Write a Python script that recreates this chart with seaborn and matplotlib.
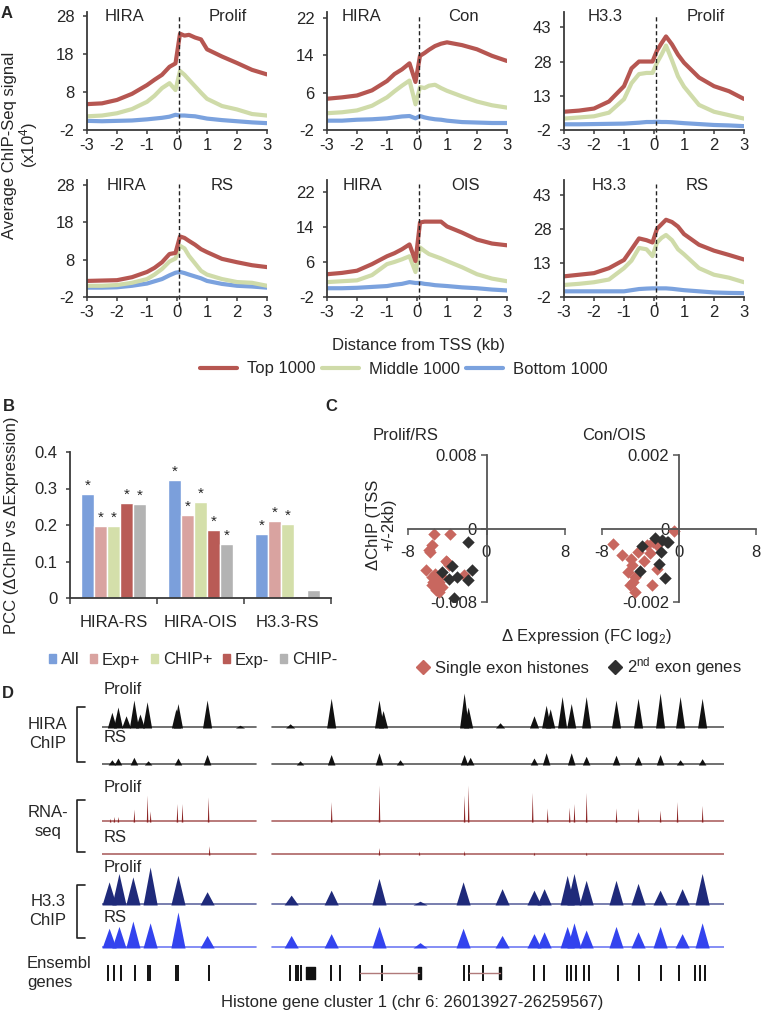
import numpy as np
import pandas as pd
import matplotlib
matplotlib.use('Agg')
import matplotlib.pyplot as plt
import seaborn as sns
from matplotlib.lines import Line2D
from matplotlib.patches import Patch

# ---------------- panel A: average ChIP-seq profiles around the TSS ----------------
dist_kb = [-3, -2.5, -2, -1.5, -1, -0.75, -0.5, -0.25, -0.05, 0.1, 0.25, 0.4, 0.6, 0.8, 1, 1.5, 2, 2.5, 3]

hira_prolif_top = [4.8, 5.0, 5.9, 7.5, 9.8, 11.2, 12.5, 14.6, 15.5, 23.3, 22.8, 23.0, 22.3, 21.8, 19.2, 17.3, 15.6, 13.8, 12.6]
hira_prolif_mid = [1.6, 1.8, 2.4, 3.5, 5.4, 7.0, 9.0, 10.3, 8.5, 13.5, 12.5, 11.2, 9.5, 7.8, 6.2, 4.3, 3.4, 2.2, 1.8]
hira_prolif_bot = [0.4, 0.3, 0.4, 0.5, 0.8, 1.0, 1.2, 1.5, 2.0, 1.8, 1.8, 1.7, 1.6, 1.3, 1.0, 0.6, 0.3, 0.0, -0.2]

hira_con_top = [4.7, 5.0, 5.4, 6.5, 8.5, 10.0, 11.0, 12.3, 8.3, 13.9, 14.5, 15.2, 16.0, 16.5, 16.8, 16.2, 15.3, 13.9, 12.8]
hira_con_mid = [1.6, 1.8, 2.2, 3.2, 5.0, 6.3, 7.5, 8.6, 3.5, 7.2, 7.0, 7.5, 7.7, 7.0, 6.4, 5.2, 4.1, 3.3, 2.8]
hira_con_bot = [0.0, 0.0, 0.2, 0.3, 0.5, 0.7, 0.9, 1.0, 0.5, 1.0, 0.7, 0.5, 0.3, 0.2, 0.0, -0.3, -0.4, -0.5, -0.5]

h33_prolif_top = [6.0, 6.5, 7.4, 10.5, 17.2, 25.0, 28.0, 28.0, 28.0, 32.8, 36.0, 39.0, 35.5, 31.0, 27.5, 21.0, 17.2, 15.0, 11.6]
h33_prolif_mid = [3.0, 3.5, 4.0, 5.6, 11.5, 18.5, 22.5, 23.0, 23.0, 27.5, 31.0, 35.0, 28.5, 21.5, 17.0, 9.0, 6.0, 4.5, 3.0]
h33_prolif_bot = [0.5, 0.5, 0.6, 0.7, 0.8, 1.0, 1.2, 1.5, 1.5, 1.6, 1.5, 1.5, 1.4, 1.2, 1.0, 0.6, 0.2, 0.0, -0.3]

hira_rs_top = [2.3, 2.4, 2.5, 3.3, 4.7, 5.8, 7.3, 9.5, 9.8, 14.2, 13.8, 13.0, 12.0, 10.8, 10.0, 8.2, 7.3, 6.5, 6.0]
hira_rs_mid = [1.0, 1.0, 1.2, 1.8, 2.8, 4.0, 5.5, 7.5, 8.3, 11.7, 11.0, 9.0, 7.0, 5.0, 4.0, 2.8, 2.0, 1.8, 1.0]
hira_rs_bot = [0.5, 0.5, 0.6, 1.0, 1.6, 2.2, 2.8, 3.8, 4.5, 4.7, 4.4, 4.0, 3.5, 3.0, 2.3, 1.5, 1.0, 0.8, 0.5]

hira_ois_top = [3.2, 3.5, 4.0, 5.5, 7.3, 8.0, 8.9, 10.0, 6.2, 15.0, 15.2, 15.2, 15.2, 15.2, 14.1, 12.7, 11.1, 10.2, 9.8]
hira_ois_mid = [1.4, 1.6, 1.8, 3.0, 5.5, 6.0, 6.6, 7.3, 3.7, 9.3, 8.5, 7.8, 7.3, 6.8, 6.2, 4.8, 3.2, 2.2, 1.6]
hira_ois_bot = [0.0, 0.0, 0.1, 0.3, 0.5, 0.8, 1.0, 1.4, 1.2, 1.2, 1.0, 0.9, 0.7, 0.6, 0.5, 0.2, 0.0, -0.3, -0.5]

h33_rs_top = [7.1, 7.8, 8.5, 10.7, 14.3, 19.0, 23.8, 23.0, 22.0, 28.0, 30.0, 32.0, 31.0, 29.0, 25.7, 21.0, 18.4, 16.5, 14.5]
h33_rs_mid = [3.3, 3.8, 4.5, 5.7, 10.7, 14.0, 19.6, 19.0, 16.0, 22.0, 24.0, 25.3, 23.0, 19.0, 16.8, 10.7, 7.8, 6.5, 4.5]
h33_rs_bot = [0.5, 0.5, 0.5, 0.5, 0.5, 1.0, 1.5, 1.7, 1.8, 1.8, 1.8, 1.8, 1.6, 1.3, 1.0, 0.5, 0.0, -0.2, -0.3]

profile_labels = ['Top 1000', 'Middle 1000', 'Bottom 1000']

# ---------------- panel B: PCC bars ----------------
comparisons = ['HIRA-RS', 'HIRA-OIS', 'H3.3-RS']
metrics = ['All', 'Exp+', 'CHIP+', 'Exp-', 'CHIP-']
pcc_all = [0.285, 0.323, 0.175]
pcc_exp_up = [0.198, 0.228, 0.211]
pcc_chip_up = [0.198, 0.264, 0.202]
pcc_exp_down = [0.261, 0.187, 0.005]
pcc_chip_down = [0.257, 0.148, 0.022]
sig_all = [True, True, True]
sig_exp_up = [True, True, True]
sig_chip_up = [True, True, True]
sig_exp_down = [True, True, False]
sig_chip_down = [True, True, False]

# ---------------- panel C: delta ChIP vs delta expression ----------------
prolif_rs_single_x = [-5.34, -3.74, -5.51, -5.78, -4.15, -6.19, -3.81, -5.51, -5.24, -2.28, -5.41, -4.83,
                      -5.17, -4.49, -3.98, -5.9, -4.6, -5.0, -4.8, -5.6]
prolif_rs_single_y = [-0.00065, -0.00065, -0.0018, -0.0026, -0.0035, -0.0045, -0.004, -0.0053, -0.0049,
                      -0.0051, -0.0058, -0.0058, -0.0067, -0.0064, -0.0037, -0.0023, -0.0052, -0.0061,
                      -0.0069, -0.0062]
prolif_rs_second_x = [-1.84, -4.49, -3.54, -1.50, -3.81, -2.96, -1.84, -3.3]
prolif_rs_second_y = [-0.0015, -0.0047, -0.0041, -0.0045, -0.0055, -0.0053, -0.0056, -0.0076]

con_ois_single_x = [-0.52, -6.82, -5.95, -4.98, -4.22, -3.36, -2.66, -2.32, -3.0, -3.6, -4.91, -5.25,
                    -4.57, -4.74, -5.09, -4.57, -2.84, -2.32]
con_ois_single_y = [-0.00007, -0.00041, -0.00071, -0.00082, -0.00064, -0.00045, -0.00038, -0.00045,
                    -0.00068, -0.00089, -0.001, -0.00118, -0.00132, -0.00145, -0.00155, -0.00173,
                    -0.00155, -0.00111]
con_ois_second_x = [-2.53, -1.73, -1.21, -3.81, -1.90, -2.08, -4.05, -1.45, -1.1]
con_ois_second_y = [-0.00025, -0.00032, -0.00038, -0.00048, -0.00064, -0.00097, -0.00116, -0.00136, -0.00036]

# ---------------- panel D: browser tracks (kb from cluster start) ----------------
cluster_len_kb = 245.64
covered_kb = [(0.0, 61.0), (67.0, 245.6)]

hira_prolif_kb = [3.9, 6.3, 9.5, 12.6, 15.0, 17.8, 29.2, 30.0, 41.5, 54.5, 74.3, 90.5, 109.4, 111.0,
                  143.0, 144.6, 157.2, 170.6, 175.4, 177.0, 181.7, 185.3, 191.2, 203.0, 211.7, 220.4,
                  228.3, 237.0]
hira_prolif_h = [0.45, 0.6, 0.35, 0.8, 0.4, 0.75, 0.55, 0.7, 0.8, 0.08, 0.12, 0.85, 0.8, 0.5,
                 1.0, 0.6, 0.15, 0.35, 0.65, 0.55, 0.9, 0.7, 0.9, 0.8, 0.85, 1.0, 0.9, 0.85]
hira_rs_kb = [3.9, 6.3, 12.6, 18.2, 30.0, 41.5, 78.2, 90.5, 109.4, 117.7, 143.0, 145.4, 170.6, 175.4,
              185.3, 191.2, 203.0, 211.7, 220.4, 228.3, 237.0]
hira_rs_h = [0.15, 0.2, 0.22, 0.12, 0.2, 0.3, 0.12, 0.3, 0.35, 0.15, 0.3, 0.22, 0.2, 0.35,
             0.35, 0.25, 0.28, 0.25, 0.3, 0.15, 0.18]

rna_prolif_kb = [3.2, 4.7, 6.3, 12.6, 17.8, 19.0, 29.6, 31.6, 41.9, 90.5, 109.4, 143.0, 144.6, 169.9,
                 175.8, 184.5, 186.4, 191.2, 203.0, 211.7, 220.4, 227.1, 237.0]
rna_prolif_h = [0.1, 0.15, 0.15, 0.35, 0.73, 0.3, 0.5, 0.5, 0.68, 0.55, 1.0, 0.73, 1.0, 0.8,
                0.38, 0.4, 0.5, 0.8, 0.38, 0.38, 0.32, 0.55, 0.45]
rna_rs_kb = [42.3, 109.4, 125.2, 143.0, 170.6, 191.2]
rna_rs_h = [0.25, 0.2, 0.1, 0.12, 0.08, 0.08]

h33_kb = [2.8, 6.7, 12.2, 19.0, 30.0, 41.5, 74.7, 90.5, 109.4, 125.6, 142.6, 158.0, 170.6, 174.6,
          183.7, 186.4, 191.2, 203.0, 211.7, 220.4, 229.1, 237.0]
h33_prolif_h = [0.61, 0.83, 0.74, 1.0, 0.78, 0.35, 0.26, 0.39, 0.70, 0.1, 0.61, 0.43, 0.39, 0.43,
                0.78, 0.83, 0.65, 0.65, 0.57, 0.39, 0.43, 0.83]
h33_rs_h = [0.55, 0.6, 0.75, 0.7, 1.0, 0.35, 0.35, 0.4, 0.6, 0.15, 0.55, 0.35, 0.4, 0.45,
            0.6, 0.7, 0.5, 0.6, 0.45, 0.6, 0.4, 0.7]

gene_kb = [2.4, 4.7, 7.5, 13.0, 18.2, 19.0, 29.2, 30.0, 42.3, 74.3, 76.6, 77.4, 78.6, 90.5, 94.0,
           101.9, 110.6, 143.0, 145.0, 150.5, 170.6, 174.6, 183.7, 185.3, 187.2, 190.4, 192.4, 203.8,
           212.1, 220.8, 227.9, 234.2, 236.2, 238.2]
gene_blocks = [(80.6, 3.5), (124.6, 1.2), (156.8, 0.8)]
gene_introns = [(101.9, 125.2), (145.0, 157.2)]

# ---------------- styling ----------------
sns.set_theme(style='ticks')
plt.rcParams['font.family'] = ['Liberation Sans', 'DejaVu Sans']
plt.rcParams['mathtext.fontset'] = 'custom'
plt.rcParams['mathtext.rm'] = 'Liberation Sans'
plt.rcParams['mathtext.it'] = 'Liberation Sans:italic'
plt.rcParams['font.size'] = 12
plt.rcParams['axes.unicode_minus'] = False

prof_colors = ['#b65651', '#cfdba9', '#7ba2de']
bar_colors = ['#7b9fdb', '#d9a3a0', '#d4dfaa', '#b95b56', '#b3b3b3']
single_color = '#c8675f'
second_color = '#303030'
axis_color = '#3a3a3a'

W, H = 763, 1014
fig = plt.figure(figsize=(W / 100, H / 100), dpi=100)


def px_axes(left, top, right, bottom):
    return fig.add_axes([left / W, 1 - bottom / H, (right - left) / W, (bottom - top) / H])


def fig_text(x, y, s, **kw):
    kw.setdefault('va', 'center')
    return fig.text(x / W, 1 - y / H, s, **kw)


def style_axis(ax, color=axis_color):
    sns.despine(ax=ax)
    for side in ['left', 'bottom']:
        ax.spines[side].set_color(color)
        ax.spines[side].set_linewidth(1.3)
    ax.tick_params(color=color, length=3, width=1.1, labelsize=12)


# ---- A ----
profile_panels = [
    ('HIRA', 'Prolif', hira_prolif_top, hira_prolif_mid, hira_prolif_bot, 29.0, [-2, 8, 18, 28]),
    ('HIRA', 'Con', hira_con_top, hira_con_mid, hira_con_bot, 23.3, [-2, 6, 14, 22]),
    ('H3.3', 'Prolif', h33_prolif_top, h33_prolif_mid, h33_prolif_bot, 49.7, [-2, 13, 28, 43]),
    ('HIRA', 'RS', hira_rs_top, hira_rs_mid, hira_rs_bot, 29.3, [-2, 8, 18, 28]),
    ('HIRA', 'OIS', hira_ois_top, hira_ois_mid, hira_ois_bot, 24.7, [-2, 6, 14, 22]),
    ('H3.3', 'RS', h33_rs_top, h33_rs_mid, h33_rs_bot, 49.5, [-2, 13, 28, 43]),
]
col_px = [(87, 267), (327, 507), (564, 744)]
row_px = [(12, 130), (180, 297)]
title_pos = [(0.21, 0.78), (0.19, 0.76), (0.23, 0.79), (0.22, 0.75), (0.20, 0.77), (0.25, 0.74)]

for i, (mark, cond, top, mid, bot, ymax, yticks) in enumerate(profile_panels):
    r, c = divmod(i, 3)
    ax = px_axes(col_px[c][0], row_px[r][0], col_px[c][1], row_px[r][1])
    for vals, color in [(bot, prof_colors[2]), (mid, prof_colors[1]), (top, prof_colors[0])]:
        sns.lineplot(x=dist_kb, y=vals, color=color, lw=3, ax=ax)
    ax.axvline(0.05, ymin=-0.08, ymax=0.97, color='#222222', lw=1, ls=(0, (3, 2)), clip_on=False)
    ax.set_xlim(-3, 3)
    ax.set_ylim(-2, ymax)
    ax.set_xticks(range(-3, 4))
    ax.set_yticks(yticks)
    style_axis(ax)
    ax.tick_params(axis='x', pad=3)
    ax.tick_params(axis='y', pad=6)
    ty = 0.966 if r == 0 else 0.957
    ax.text(title_pos[i][0], ty, mark, transform=ax.transAxes, ha='center', va='center', fontsize=12)
    ax.text(title_pos[i][1], ty, cond, transform=ax.transAxes, ha='center', va='center', fontsize=12)

fig_text(7, 13, 'A', fontweight='bold', fontsize=12, ha='center')
fig_text(21, 145, 'Average ChIP-Seq signal\n(x10$^4$)', rotation=90, ha='center', fontsize=12,
         linespacing=0.95, multialignment='center')
fig_text(418, 345, 'Distance from TSS (kb)', ha='center', fontsize=12)
fig.legend(handles=[Line2D([], [], color=col, lw=3, label=lab) for col, lab in zip(prof_colors, profile_labels)],
           loc='center', bbox_to_anchor=(404 / W, 1 - 369 / H), ncol=3, frameon=False, fontsize=12,
           handlelength=2.2, handletextpad=0.6, columnspacing=0.4)

# ---- B ----
axb = px_axes(70, 452, 331, 598)
df_b = pd.DataFrame({
    'comparison': comparisons * 5,
    'metric': np.repeat(metrics, 3),
    'pcc': pcc_all + pcc_exp_up + pcc_chip_up + pcc_exp_down + pcc_chip_down,
})
sns.barplot(data=df_b, x='comparison', y='pcc', hue='metric', hue_order=metrics, palette=bar_colors,
            width=0.75, saturation=1, errorbar=None, legend=False, ax=axb)
stars = [sig_all, sig_exp_up, sig_chip_up, sig_exp_down, sig_chip_down]
for cont, flags in zip(axb.containers, stars):
    for bar, flag in zip(cont, flags):
        if flag:
            axb.text(bar.get_x() + bar.get_width() / 2, bar.get_height() + 0.022, '*',
                     ha='center', va='center', fontsize=11)
axb.set_ylim(0, 0.4)
axb.set_xlim(-0.5, 2.5)
axb.set_yticks([0, 0.1, 0.2, 0.3, 0.4])
axb.set_yticklabels(['0', '0.1', '0.2', '0.3', '0.4'])
axb.set_xlabel('')
axb.set_ylabel('')
style_axis(axb)
axb.set_xticks([-0.5, 0.5, 1.5, 2.5], minor=True)
axb.tick_params(axis='x', which='major', length=0, pad=12)
axb.tick_params(axis='x', which='minor', length=4, width=1.1, color=axis_color)
axb.tick_params(axis='y', pad=6)
fig_text(9, 407, 'B', fontweight='bold', fontsize=12, ha='center')
fig_text(12, 525, 'PCC (ΔChIP vs ΔExpression)', rotation=90, ha='center', fontsize=12)
fig.legend(handles=[Patch(color=col, label=m) for col, m in zip(bar_colors, metrics)],
           loc='center', bbox_to_anchor=(193 / W, 1 - 660 / H), ncol=5, frameon=False, fontsize=12,
           handlelength=0.4, handleheight=0.4, handletextpad=0.3, columnspacing=0.65)

# ---- C ----
scatter_panels = [
    ('Prolif/RS', prolif_rs_single_x, prolif_rs_single_y, prolif_rs_second_x, prolif_rs_second_y, 0.008, (408, 565), 373),
    ('Con/OIS', con_ois_single_x, con_ois_single_y, con_ois_second_x, con_ois_second_y, 0.002, (602, 756), 582),
]
for name, sx, sy, dx, dy, lim, (xl, xr), tx in scatter_panels:
    ax = px_axes(xl, 455, xr, 602)
    sns.scatterplot(x=sx, y=sy, marker='D', s=40, color=single_color, linewidth=0, ax=ax)
    sns.scatterplot(x=dx, y=dy, marker='D', s=40, color=second_color, linewidth=0, ax=ax)
    ax.set_xlim(-8, 8)
    ax.set_ylim(-lim, lim)
    for side in ['top', 'right']:
        ax.spines[side].set_visible(False)
    for side in ['left', 'bottom']:
        ax.spines[side].set_position(('data', 0))
        ax.spines[side].set_color('#555555')
        ax.spines[side].set_linewidth(1.3)
    ax.set_xticks([-8, 0, 8])
    ax.set_xticklabels(['-8', '0', '8'])
    ax.set_yticks([-lim, 0, lim])
    ax.set_yticklabels([f'{-lim:g}', '0', f'{lim:g}'])
    ax.tick_params(color='#555555', length=4, width=1.1, labelsize=12)
    ax.tick_params(axis='x', pad=8)
    ax.tick_params(axis='y', pad=3)
    fig_text(tx, 436, name, ha='left', fontsize=12)

fig_text(331, 407, 'C', fontweight='bold', fontsize=12, ha='center')
fig_text(381, 525, 'ΔChIP (TSS\n+/-2kb)', rotation=90, ha='center', fontsize=12, linespacing=1.0,
         multialignment='center')
fig_text(586, 637, 'Δ Expression (FC log$_2$)', ha='center', fontsize=12)
fig.legend(handles=[Line2D([], [], marker='D', ls='', color=single_color, ms=7, label='Single exon histones'),
                    Line2D([], [], marker='D', ls='', color=second_color, ms=7, label='2$^{\\rm nd}$ exon genes')],
           loc='center', bbox_to_anchor=(579 / W, 1 - 667 / H), ncol=2, frameon=False, fontsize=12,
           handlelength=0.8, handletextpad=0.3, columnspacing=1.2)

# ---- D ----
def draw_track(ax, pos, heights, color, half_width):
    for p, h in zip(pos, heights):
        ax.fill_between([p - half_width, p, p + half_width], 0, [0, h, 0], color=color, lw=0)
    for a, b in covered_kb:
        ax.plot([a, b], [0.03, 0.03], color=color, lw=1.2, alpha=0.7)
    ax.set_xlim(0, cluster_len_kb)
    ax.set_ylim(0, 1)
    ax.axis('off')


tracks = [
    (hira_prolif_kb, hira_prolif_h, '#111111', 1.8, (693, 728)),
    (hira_rs_kb, hira_rs_h, '#111111', 1.5, (730, 765)),
    (rna_prolif_kb, rna_prolif_h, '#8b2323', 0.3, (785, 822)),
    (rna_rs_kb, rna_rs_h, '#8b2323', 0.3, (818, 855)),
    (h33_kb, h33_prolif_h, '#1f2a7a', 2.8, (867, 905)),
    (h33_kb, h33_rs_h, '#3343ee', 2.8, (912, 948)),
]
for pos, hts, col, hw, (ttop, tbot) in tracks:
    draw_track(px_axes(102, ttop, 724, tbot), pos, hts, col, hw)

axg = px_axes(102, 965, 724, 981)
axg.vlines(gene_kb, -1, 1, color='#111111', lw=1.4)
axg.broken_barh(gene_blocks, (-0.7, 1.4), color='#111111')
for a, b in gene_introns:
    axg.plot([a, b], [0, 0], color='#b07a7a', lw=1)
axg.set_xlim(0, cluster_len_kb)
axg.set_ylim(-1, 1)
axg.axis('off')

fig_text(8, 693, 'D', fontweight='bold', fontsize=12, ha='center')
for y, s in [(690, 'Prolif'), (738, 'RS'), (787, 'Prolif'), (837, 'RS'), (868, 'Prolif'), (917, 'RS')]:
    fig_text(104, y, s, ha='left', fontsize=12)
for y, s in [(734, 'HIRA\nChIP'), (822, 'RNA-\nseq'), (911, 'H3.3\nChIP')]:
    fig_text(48, y, s, ha='center', fontsize=12, linespacing=1.3, multialignment='center')
fig_text(27, 973, 'Ensembl\ngenes', ha='left', fontsize=12, linespacing=1.3)
for top, bot in [(707, 762), (800, 852), (885, 938)]:
    fig.add_artist(Line2D([85 / W, 77 / W, 77 / W, 85 / W], [1 - top / H, 1 - top / H, 1 - bot / H, 1 - bot / H],
                          color='#222222', lw=1.2))
fig_text(412, 1002, 'Histone gene cluster 1 (chr 6: 26013927-26259567)', ha='center', fontsize=12)

fig.savefig('out.png', dpi=100)
